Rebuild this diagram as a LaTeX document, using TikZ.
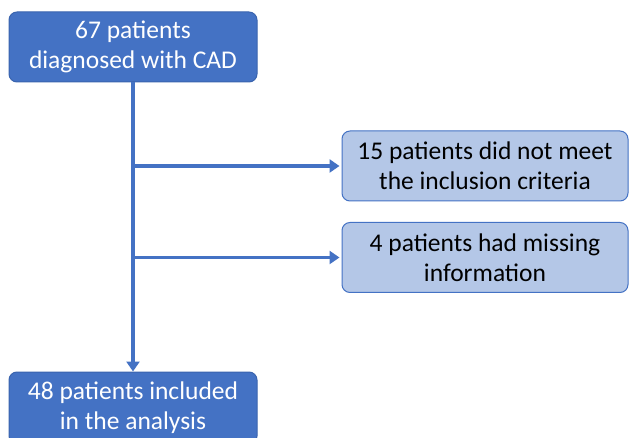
\documentclass[tikz,border=0pt]{standalone}
\usepackage{fontspec}
\setmainfont{Carlito}
\usetikzlibrary{arrows.meta}
\definecolor{dblue}{HTML}{4472C4}
\definecolor{dborder}{HTML}{3A64AE}
\definecolor{lblue}{HTML}{B4C7E7}
\begin{document}
\begin{tikzpicture}[x=1pt,y=-1pt,
  darkbox/.style={draw=dborder,line width=1pt,fill=dblue,rounded corners=8pt,text=white,
    minimum width=248pt,minimum height=70pt,align=center,inner sep=0pt,font=\fontsize{25.5}{30}\selectfont},
  lightbox/.style={draw=dblue,line width=1pt,fill=lblue,rounded corners=8pt,text=black,
    minimum width=286pt,minimum height=70pt,align=center,inner sep=0pt,font=\fontsize{25.5}{30}\selectfont},
  arr/.style={draw=dblue,line width=3.5pt,-{Triangle[length=10pt,width=13pt]}}]
\useasboundingbox (0,0) rectangle (629,438);
\clip (0,0) rectangle (629,438);
\fill[white] (0,0) rectangle (629,438);
\node[darkbox] (top) at (133,47) {67 patients\\diagnosed with CAD};
\node[lightbox] (r1) at (485,166) {15 patients did not meet\\the inclusion criteria};
\node[lightbox] (r2) at (485,257.5) {4 patients had missing\\information};
\node[darkbox,minimum height=72pt] (bot) at (133,408) {48 patients included\\in the analysis};
\draw[arr] (top.south) -- (bot.north);
\coordinate (b1) at (top.south |- r1.west);
\coordinate (b2) at (top.south |- r2.west);
\draw[arr,shorten >=2pt] ([xshift=-1.75pt]b1) -- (r1.west);
\draw[arr,shorten >=2pt] ([xshift=-1.75pt]b2) -- (r2.west);
\end{tikzpicture}
\end{document}
